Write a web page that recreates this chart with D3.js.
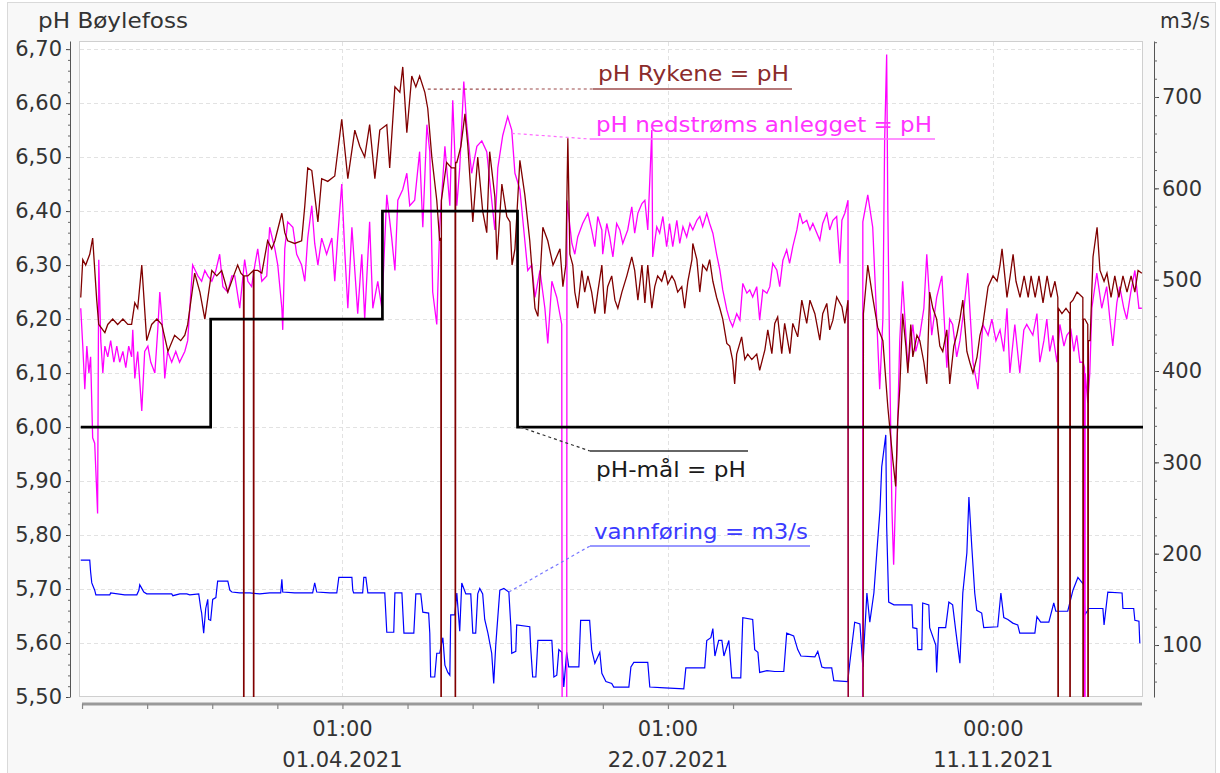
<!DOCTYPE html>
<html><head><meta charset="utf-8">
<script src="https://cdn.jsdelivr.net/npm/d3@7"></script>
<style>
html,body{margin:0;padding:0;background:#fff;}
svg{display:block;font-family:"DejaVu Sans",sans-serif;}
</style></head><body>
<svg id="chart" width="1220" height="773"></svg>
<script>
// ---------- DATA (day = days since 2021-01-01, value) ----------
const rykene = [[0,6.24],[0.7,6.31],[1.7,6.30],[3.1,6.32],[4.1,6.35],[5.5,6.235],[6.2,6.19],[8.3,6.175],[9.3,6.19],[11.0,6.20],[12.7,6.19],[14.5,6.20],[16.2,6.19],[17.5,6.19],[18.6,6.23],[19.6,6.22],[21.0,6.30],[22.7,6.16],[24.4,6.19],[26.2,6.20],[27.9,6.19],[30.0,6.14],[32.3,6.17],[34.4,6.16],[35.8,6.17],[36.8,6.19],[39.2,6.285],[41.0,6.25],[42.7,6.20],[45.1,6.29],[46.8,6.28],[48.5,6.29],[50.6,6.25],[52.6,6.28],[54.0,6.30],[55.1,6.285],[56.0,6.28],[56.1,4],[56.2,6.28],[57.5,6.28],[59.4,6.29],[59.5,4],[59.6,6.29],[60.9,6.29],[62.3,6.285],[64.3,6.345],[65.7,6.33],[66.8,6.345],[69.2,6.396],[70.2,6.36],[71.2,6.345],[73.6,6.34],[76.0,6.345],[77.1,6.41],[78.1,6.48],[79.5,6.475],[81.6,6.38],[82.9,6.46],[85.0,6.455],[87.4,6.465],[89.8,6.57],[91.9,6.46],[94.3,6.55],[96.0,6.52],[97.7,6.50],[99.4,6.56],[101.2,6.46],[102.9,6.55],[105.3,6.56],[106.3,6.48],[108.1,6.63],[109.8,6.62],[110.8,6.667],[112.2,6.545],[113.9,6.65],[115.3,6.63],[116.6,6.65],[118.4,6.62],[119.4,6.59],[120.8,6.50],[122.5,6.42],[123.5,6.345],[123.9,6.35],[124.0,4],[124.1,6.42],[125.9,6.49],[127.6,6.48],[128.8,6.48],[128.9,4],[129.0,6.49],[129.4,6.49],[130.8,6.52],[132.2,6.58],[133.2,6.52],[134.9,6.38],[136.6,6.50],[138.3,6.40],[139.7,6.36],[140.7,6.51],[142.5,6.426],[143.2,6.31],[144.9,6.45],[146.6,6.39],[147.7,6.38],[148.4,6.30],[149.4,6.33],[151.1,6.494],[152.8,6.43],[154.5,6.345],[156.3,6.22],[157.3,6.205],[159.0,6.37],[160.7,6.345],[162.5,6.30],[164.9,6.33],[165.9,6.26],[166.9,6.30],[167.6,6.535],[168.3,6.32],[169.3,6.30],[170.0,6.25],[171.0,6.22],[172.4,6.29],[173.4,6.25],[174.5,6.28],[175.8,6.25],[176.9,6.21],[177.9,6.25],[179.3,6.30],[180.3,6.21],[181.3,6.26],[182.7,6.28],[183.8,6.235],[184.8,6.22],[186.2,6.25],[187.9,6.28],[189.6,6.315],[190.6,6.29],[191.7,6.235],[193.1,6.30],[194.1,6.23],[195.1,6.30],[196.5,6.22],[197.5,6.26],[198.5,6.28],[199.9,6.27],[201.0,6.29],[202.0,6.265],[203.4,6.28],[204.4,6.27],[205.4,6.25],[206.8,6.26],[207.8,6.22],[208.9,6.27],[210.3,6.31],[210.6,6.34],[212.0,6.31],[213.0,6.25],[214.0,6.30],[215.4,6.29],[216.4,6.31],[217.5,6.27],[218.8,6.24],[219.9,6.22],[220.9,6.20],[222.3,6.155],[223.3,6.15],[224.3,6.124],[225.0,6.08],[225.7,6.135],[227.4,6.167],[228.5,6.125],[229.5,6.135],[230.9,6.125],[232.6,6.135],[233.6,6.105],[235.4,6.143],[236.4,6.18],[237.8,6.136],[238.8,6.192],[239.8,6.204],[241.2,6.136],[242.2,6.192],[244.0,6.136],[245.0,6.192],[246.7,6.167],[248.1,6.235],[249.8,6.192],[250.9,6.235],[252.6,6.21],[254.3,6.161],[255.3,6.21],[256.7,6.229],[257.7,6.18],[258.8,6.198],[260.1,6.241],[261.9,6.223],[262.9,6.192],[264.0,6.235],[264.2,4],[269.0,4],[269.3,6.21],[270.8,6.30],[272.5,6.24],[274.2,6.185],[276.0,6.16],[277.7,6.037],[279.4,5.94],[280.4,5.89],[281.1,6.01],[281.8,6.07],[282.8,6.21],[283.9,6.15],[284.6,6.10],[285.6,6.19],[286.3,6.13],[287.7,6.17],[288.7,6.16],[290.1,6.12],[291.1,6.08],[292.1,6.25],[293.2,6.22],[294.5,6.20],[295.6,6.15],[296.6,6.14],[298.0,6.18],[299.0,6.08],[300.4,6.15],[301.4,6.17],[302.5,6.20],[303.5,6.235],[304.9,6.14],[305.9,6.12],[307.0,6.10],[308.4,6.13],[309.4,6.17],[310.4,6.19],[312.2,6.26],[313.9,6.28],[315.3,6.27],[316.3,6.30],[317.0,6.33],[318.7,6.24],[319.8,6.28],[320.8,6.32],[321.8,6.27],[323.2,6.24],[324.6,6.28],[326.0,6.24],[327.0,6.28],[328.4,6.24],[329.7,6.28],[331.1,6.23],[332.5,6.28],[333.8,6.24],[335.2,6.27],[336.2,6.24],[336.3,4],[336.4,6.22],[337.6,6.21],[339.0,6.22],[340.3,6.21],[340.4,4],[340.5,6.23],[341.4,6.235],[342.8,6.25],[344.8,6.24],[344.9,4],[345.0,6.20],[345.5,6.20],[346.5,6.19],[346.6,4],[346.7,6.16],[347.3,6.16],[348.3,6.315],[349.7,6.37],[350.7,6.29],[352.1,6.27],[353.1,6.285],[354.5,6.24],[355.8,6.28],[357.2,6.24],[358.6,6.28],[360.0,6.25],[361.4,6.28],[362.7,6.25],[363.8,6.29],[365.1,6.285]];

const nedstroms = [[0,6.22],[0.7,6.15],[1.4,6.07],[2.1,6.15],[2.8,6.10],[3.4,6.13],[4.1,5.98],[4.8,5.97],[5.5,5.88],[5.8,5.84],[6.2,6.31],[6.9,6.16],[7.6,6.10],[8.3,6.15],[9.3,6.13],[10.3,6.16],[11.4,6.12],[12.4,6.15],[13.4,6.12],[14.5,6.14],[15.5,6.11],[16.5,6.15],[17.5,6.13],[17.9,6.18],[18.6,6.09],[19.6,6.14],[21.0,6.03],[22.0,6.14],[23.1,6.15],[24.1,6.12],[25.5,6.10],[26.5,6.18],[27.2,6.25],[28.2,6.18],[28.9,6.09],[29.9,6.14],[31.3,6.12],[32.7,6.14],[34.0,6.12],[35.8,6.14],[36.8,6.16],[38.5,6.30],[40.3,6.28],[41.6,6.27],[42.7,6.29],[43.7,6.28],[45.1,6.27],[46.5,6.29],[47.8,6.32],[48.9,6.26],[50.6,6.25],[52.0,6.28],[53.0,6.28],[54.7,6.22],[56.4,6.31],[57.5,6.27],[58.8,6.26],[59.9,6.30],[60.9,6.33],[62.3,6.27],[64.0,6.28],[65.0,6.37],[66.8,6.33],[67.8,6.30],[69.2,6.22],[69.5,6.18],[70.2,6.33],[71.2,6.38],[73.0,6.37],[74.3,6.32],[76.0,6.30],[77.1,6.27],[78.1,6.35],[79.5,6.41],[80.5,6.34],[81.6,6.30],[82.9,6.35],[84.6,6.32],[86.4,6.35],[87.4,6.27],[88.4,6.35],[89.8,6.45],[90.8,6.33],[91.9,6.22],[93.3,6.37],[94.3,6.29],[95.3,6.21],[96.7,6.32],[97.7,6.20],[99.4,6.38],[100.5,6.22],[102.2,6.27],[103.6,6.22],[105.3,6.43],[107.0,6.35],[108.1,6.29],[109.1,6.42],[110.8,6.44],[112.2,6.47],[113.2,6.41],[114.9,6.42],[116.6,6.51],[117.7,6.37],[119.1,6.56],[120.1,6.51],[121.1,6.25],[122.5,6.19],[123.5,6.37],[125.3,6.52],[127.0,6.41],[128.0,6.605],[129.4,6.41],[130.4,6.48],[131.8,6.64],[132.8,6.56],[134.5,6.47],[136.3,6.52],[138.0,6.53],[139.7,6.51],[141.4,6.42],[142.5,6.365],[143.5,6.48],[145.2,6.54],[146.9,6.575],[148.3,6.55],[149.4,6.47],[151.1,6.44],[152.8,6.345],[153.8,6.29],[155.2,6.30],[156.3,6.24],[158.0,6.29],[159.7,6.22],[160.7,6.155],[162.1,6.27],[163.8,6.24],[165.5,6.19],[165.9,4],[167.1,4],[167.3,6.42],[169.0,6.34],[170.0,6.32],[171.0,6.352],[172.7,6.377],[174.5,6.396],[175.8,6.365],[176.9,6.334],[177.9,6.39],[179.3,6.365],[179.6,6.32],[181.0,6.377],[182.0,6.352],[183.1,6.315],[184.4,6.377],[185.5,6.365],[186.5,6.34],[188.2,6.365],[189.6,6.408],[190.6,6.359],[191.7,6.396],[193.1,6.414],[194.1,6.42],[195.1,6.365],[196.5,6.55],[196.8,6.315],[198.2,6.371],[199.2,6.359],[200.3,6.39],[201.6,6.334],[202.6,6.377],[203.7,6.334],[205.1,6.383],[206.1,6.34],[207.2,6.371],[208.5,6.352],[209.6,6.377],[210.6,6.365],[212.0,6.383],[213.0,6.39],[214.0,6.371],[215.4,6.396],[216.4,6.377],[217.5,6.359],[218.8,6.32],[219.9,6.291],[220.9,6.254],[222.3,6.217],[223.3,6.198],[224.3,6.186],[225.7,6.21],[226.8,6.198],[227.8,6.266],[229.2,6.248],[230.2,6.254],[231.2,6.241],[232.6,6.26],[233.6,6.198],[234.7,6.254],[236.1,6.248],[237.1,6.26],[238.1,6.303],[239.5,6.291],[240.5,6.26],[241.6,6.309],[242.9,6.328],[243.9,6.303],[245.0,6.334],[246.4,6.365],[247.4,6.396],[248.4,6.377],[249.8,6.383],[250.9,6.365],[251.9,6.377],[253.3,6.359],[254.3,6.346],[255.3,6.377],[256.7,6.396],[257.7,6.365],[258.8,6.383],[260.1,6.39],[261.2,6.303],[261.9,6.383],[262.9,6.396],[264.0,6.42],[264.3,4],[268.9,4],[269.1,6.38],[270.8,6.43],[272.5,6.37],[274.2,6.16],[274.9,6.07],[276.0,6.20],[276.6,6.53],[277.3,6.69],[277.7,6.40],[278.4,6.10],[279.1,5.85],[279.7,5.745],[280.8,5.95],[281.8,6.16],[282.8,6.27],[284.6,6.11],[286.3,6.19],[287.3,6.14],[288.7,6.17],[290.1,6.22],[291.1,6.32],[292.8,6.17],[294.5,6.24],[296.3,6.28],[298.0,6.11],[299.0,6.20],[300.0,6.19],[301.4,6.13],[302.5,6.16],[303.9,6.22],[305.2,6.285],[307.0,6.12],[308.7,6.07],[310.4,6.19],[312.2,6.17],[313.5,6.20],[314.9,6.16],[316.3,6.18],[317.6,6.14],[318.7,6.22],[319.7,6.10],[321.4,6.19],[323.1,6.10],[324.5,6.18],[325.5,6.19],[327.6,6.17],[329.0,6.21],[330.0,6.12],[331.4,6.16],[332.4,6.20],[333.4,6.14],[334.5,6.17],[335.9,6.12],[336.9,6.19],[338.3,6.15],[339.3,6.17],[340.7,6.18],[341.7,6.14],[342.7,6.17],[343.8,6.12],[344.9,6.12],[345.4,6.11],[345.5,4],[345.6,6.10],[346.5,6.045],[347.2,6.10],[347.9,6.22],[349.6,6.285],[351.3,6.22],[353.0,6.26],[354.1,6.20],[355.1,6.15],[356.5,6.23],[357.5,6.26],[358.9,6.22],[359.9,6.20],[361.3,6.25],[362.7,6.29],[364.1,6.22],[365.1,6.22]];

const phMaal = [[0,6.0],[44.7,6.2],[103.8,6.4],[150.3,6.0],[365.5,6.0]];

const vannforing = [[0,193],[3.1,193],[3.4,180],[3.8,168],[4.8,160],[5.2,155],[10.0,155],[10.3,157],[15.1,155],[19.3,155],[20.0,160],[20.3,166],[21.0,162],[21.7,158],[22.7,156],[27.2,156],[31.3,156],[31.7,154],[34.1,156],[36.5,156],[37.5,155],[40.6,156],[41.3,140],[41.6,135],[42.3,113],[43.0,140],[43.7,150],[44.0,128],[44.7,127],[45.4,150],[46.5,152],[47.1,170],[50.6,170],[51.3,160],[52.0,158],[54.7,157],[58.2,157],[61.6,156],[65.0,157],[68.8,157],[69.2,172],[69.5,158],[73.6,157],[77.1,157],[79.8,157],[80.5,168],[81.2,158],[85.7,157],[88.1,157],[88.8,174],[93.3,174],[93.6,160],[93.9,157],[97.0,157],[97.4,174],[98.1,174],[98.8,157],[104.6,157],[105.3,114],[107.7,114],[108.1,157],[110.5,157],[111.2,113],[114.6,113],[115.3,156],[117.0,156],[117.7,136],[119.7,135],[120.1,113],[120.4,65],[121.8,65],[122.5,91],[123.5,91],[124.6,108],[125.3,78],[126.3,70],[127.0,67],[127.3,133],[128.7,133],[129.4,157],[130.4,115],[131.1,168],[132.5,156],[134.2,156],[134.9,113],[135.9,113],[136.6,156],[137.3,162],[138.3,156],[139.0,128],[140.1,113],[141.4,91],[142.1,58],[142.8,100],[143.1,113],[144.2,160],[145.6,162],[147.3,158],[148.0,120],[148.3,91],[149.7,93],[150.0,122],[154.5,120],[154.8,98],[155.5,65],[156.6,65],[157.3,105],[162.1,105],[162.8,65],[163.8,67],[164.5,95],[165.5,92],[166.2,54],[167.2,92],[167.9,76],[171.4,76],[172.0,127],[175.1,127],[175.8,95],[176.9,80],[178.6,92],[179.3,69],[180.7,60],[182.7,58],[183.4,54],[188.6,54],[189.3,76],[190.3,81],[195.1,81],[195.8,54],[201.0,53],[207.5,52],[208.2,75],[214.7,75],[215.4,105],[216.8,108],[217.5,118],[218.2,88],[219.5,105],[220.6,105],[221.3,88],[223.0,105],[224.0,64],[227.1,64],[227.8,130],[231.2,128],[231.9,95],[233.0,92],[233.6,70],[236.1,72],[238.8,71],[241.9,71],[242.9,113],[245.3,110],[246.7,95],[247.8,88],[252.6,87],[253.6,93],[255.0,76],[256.0,75],[258.4,75],[259.1,61],[263.9,60],[264.6,80],[266.3,125],[268.1,123],[269.1,76],[270.5,157],[271.5,125],[272.9,157],[273.9,201],[275.0,248],[275.6,295],[277.0,330],[277.3,230],[278.0,147],[279.8,144],[286.0,144],[286.3,119],[287.7,118],[288.0,95],[289.4,95],[289.7,146],[291.8,144],[292.1,119],[294.2,100],[294.5,70],[295.2,119],[297.6,119],[298.7,147],[300.0,144],[301.1,115],[302.5,80],[303.5,157],[304.9,201],[305.6,262],[306.6,207],[307.6,157],[308.3,138],[310.0,135],[310.7,119],[315.5,120],[316.6,157],[317.6,130],[319.0,128],[320.7,124],[322.4,122],[323.1,113],[328.3,113],[329.0,131],[330.3,125],[333.1,125],[334.8,146],[335.5,137],[339.6,137],[341.4,160],[343.1,174],[345.1,166],[345.5,133],[346.9,140],[351.7,140],[352.1,122],[353.4,158],[358.3,157],[358.6,140],[362.3,140],[362.7,127],[364.1,126],[364.4,102]];

const phTicks = [5.5,5.6,5.7,5.8,5.9,6.0,6.1,6.2,6.3,6.4,6.5,6.6,6.7];
const flowTicks = [100,200,300,400,500,600,700];
const timeTicks = ["2021-04-01T01:00:00Z","2021-07-22T01:00:00Z","2021-11-11T00:00:00Z"];
const timeTickHours = ["01:00","01:00","00:00"];
const leftTitle = "pH Bøylefoss";
const rightTitle = "m3/s";
// annotation texts with anchor point [day, value] on their axis
const annotations = [
  {text:"pH Rykene = pH", anchor:[119.4,6.626], axis:"L"},
  {text:"pH nedstrøms anlegget = pH", anchor:[148.3,6.544], axis:"L"},
  {text:"pH-mål = pH", anchor:[151.1,6.0], axis:"L"},
  {text:"vannføring = m3/s", anchor:[147.3,158], axis:"R"}
];

// ---------- LAYOUT ----------
const P = {l:79, t:41, r:1143, b:697};
const t0 = Date.UTC(2021,0,1);
const toDate = d => new Date(t0 + d*864e5);
const x = d3.scaleUtc().domain([toDate(-0.6), toDate(365.5)]).range([P.l,P.r]);
const yL = d3.scaleLinear().domain([5.5, 6.715]).range([P.b,P.t]);
const yR = d3.scaleLinear().domain([43.1, 761.3]).range([P.b,P.t]);
const loc = d3.formatLocale({decimal:",", thousands:".", grouping:[3], currency:["",""]});
const fmt2 = loc.format(".2f");

const svg = d3.select("#chart");
svg.append("rect").attr("x",7.5).attr("y",2.5).attr("width",1208).attr("height",790)
  .attr("fill","#f8f8f8").attr("stroke","#d9d9d9");

svg.append("defs").append("clipPath").attr("id","clip")
  .append("rect").attr("x",P.l).attr("y",P.t).attr("width",P.r-P.l).attr("height",P.b-P.t);

svg.append("rect").attr("x",P.l+0.5).attr("y",P.t+0.5).attr("width",P.r-P.l-1).attr("height",P.b-P.t-1)
  .attr("fill","#fff").attr("stroke","#cfcfcf");

// grid
const grid = svg.append("g");
grid.selectAll(".hg").data(phTicks.filter(v=>v>5.5)).join("line")
  .attr("x1",P.l+1).attr("x2",P.r-1)
  .attr("y1",d=>Math.round(yL(d))+0.5).attr("y2",d=>Math.round(yL(d))+0.5)
  .attr("stroke","#e2e2e2").attr("stroke-dasharray","4,3");
const majorDates = timeTicks.map(s=>new Date(s));
grid.selectAll(".vg").data(majorDates).join("line")
  .attr("y1",P.t+1).attr("y2",P.b-1)
  .attr("x1",d=>Math.round(x(d))+0.5).attr("x2",d=>Math.round(x(d))+0.5)
  .attr("stroke","#e2e2e2").attr("stroke-dasharray","4,3");

// series
const plot = svg.append("g").attr("clip-path","url(#clip)");
const lineL = d3.line().x(d=>x(toDate(d[0]))).y(d=>yL(d[1]));
const lineR = d3.line().x(d=>x(toDate(d[0]))).y(d=>yR(d[1]));
const stepL = d3.line().curve(d3.curveStepAfter).x(d=>x(toDate(d[0]))).y(d=>yL(d[1]));

plot.append("path").datum(vannforing).attr("d",lineR)
  .attr("fill","none").attr("stroke","#0000ff").attr("stroke-width",1.2);
plot.append("path").datum(nedstroms).attr("d",lineL)
  .attr("fill","none").attr("stroke","#ff00ff").attr("stroke-width",1.3);
plot.append("path").datum(rykene).attr("d",lineL)
  .attr("fill","none").attr("stroke","#800000").attr("stroke-width",1.3);
plot.append("path").datum(phMaal).attr("d",stepL)
  .attr("fill","none").attr("stroke","#000").attr("stroke-width",2.7);

// left axis
const axL = svg.append("g").attr("transform",`translate(70,0)`)
  .call(d3.axisLeft(yL).tickValues(phTicks).tickSize(4).tickFormat(fmt2).tickSizeOuter(0));
const minorPh = d3.range(0,61).map(i=>5.5+i*0.02).filter(v=>v<=6.715);
svg.append("g").attr("transform",`translate(70,0)`)
  .call(d3.axisLeft(yL).tickValues(minorPh).tickSize(2).tickFormat("").tickSizeOuter(0))
  .call(g=>g.select(".domain").remove())
  .selectAll("line").attr("stroke","#666");
axL.select(".domain").attr("stroke","#555");
axL.selectAll(".tick line").attr("stroke","#444");
axL.selectAll(".tick text").attr("font-size",21).attr("fill","#333").attr("x",-8)
  .attr("font-family","DejaVu Sans");

// right axis
const axR = svg.append("g").attr("transform",`translate(1154,0)`)
  .call(d3.axisRight(yR).tickValues(flowTicks).tickSize(5).tickSizeOuter(0));
const minorFlow = d3.range(60,761,20);
svg.append("g").attr("transform",`translate(1154,0)`)
  .call(d3.axisRight(yR).tickValues(minorFlow).tickSize(3).tickFormat("").tickSizeOuter(0))
  .call(g=>g.select(".domain").remove())
  .selectAll("line").attr("stroke","#666");
axR.select(".domain").attr("stroke","#555");
axR.selectAll(".tick line").attr("stroke","#444");
axR.selectAll(".tick text").attr("font-size",21).attr("fill","#333").attr("x",8)
  .attr("font-family","DejaVu Sans");

// bottom axis
const minorDates = d3.range(-4,7).map(k=>new Date(majorDates[0].getTime()+k*22.4*864e5))
  .filter(d=>d>=x.domain()[0] && d<=x.domain()[1]);
const axB = svg.append("g").attr("transform",`translate(0,704)`)
  .call(d3.axisBottom(x).tickValues(minorDates).tickSize(5).tickFormat("").tickSizeOuter(0));
axB.select(".domain").attr("stroke","#9a9a9a").attr("stroke-width",3)
  .attr("d",`M${P.l+3},0H${P.r-1}`);
axB.selectAll(".tick line").attr("stroke","#888").attr("stroke-width",1.2);
const fD = d3.utcFormat("%d.%m.%Y");
const tl = svg.append("g").attr("font-size",21).attr("fill","#333").attr("text-anchor","middle");
tl.selectAll(".t1").data(majorDates).join("text")
  .attr("x",d=>x(d)).attr("y",736).text((d,i)=>timeTickHours[i]);
tl.selectAll(".t2").data(majorDates).join("text")
  .attr("x",d=>x(d)).attr("y",767).text(d=>fD(d));

// titles
svg.append("text").attr("x",38).attr("y",28).attr("font-size",21).attr("fill","#333")
  .attr("textLength",150).attr("lengthAdjust","spacingAndGlyphs").text(leftTitle);
svg.append("text").attr("x",1160).attr("y",28).attr("font-size",21).attr("fill","#333")
  .attr("textLength",50).attr("lengthAdjust","spacingAndGlyphs").text(rightTitle);

// annotations
const annStyle = [
  {color:"#8b2b2b", lc:"#9c4c4c", lx:593, ly:89, lw:199, tx:598, ty:81, tlen:191},
  {color:"#ff33ff", lc:"#ff6cff", lx:590, ly:139, lw:345, tx:596, ty:132, tlen:336},
  {color:"#1a1a1a", lc:"#333333", lx:590, ly:451, lw:158, tx:596, ty:477, tlen:150},
  {color:"#3b3bff", lc:"#7676ff", lx:590, ly:546, lw:220, tx:594, ty:539, tlen:214}
];
const ann = svg.append("g");
annotations.forEach((a,i)=>{
  const s = annStyle[i];
  const ax = x(toDate(a.anchor[0]));
  const ay = a.axis==="L" ? yL(a.anchor[1]) : yR(a.anchor[1]);
  ann.append("line").attr("x1",ax).attr("y1",ay).attr("x2",s.lx).attr("y2",s.ly)
    .attr("stroke",s.lc).attr("stroke-width",1.2).attr("stroke-dasharray","3,3");
  ann.append("line").attr("x1",s.lx).attr("y1",s.ly).attr("x2",s.lx+s.lw).attr("y2",s.ly)
    .attr("stroke",s.lc).attr("stroke-width",1.5);
  ann.append("text").attr("x",s.tx).attr("y",s.ty).attr("font-size",21).attr("fill",s.color)
    .attr("textLength",s.tlen).attr("lengthAdjust","spacingAndGlyphs").text(a.text);
});
</script>
</body></html>
